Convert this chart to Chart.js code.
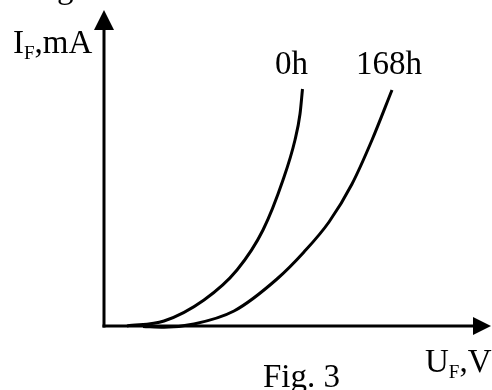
<!DOCTYPE html>
<html>
<head>
<meta charset="utf-8">
<script src="https://cdn.jsdelivr.net/npm/chart.js@4.4.1/dist/chart.umd.min.js"></script>
<style>
  body { margin: 0; background: #fff; }
  canvas { display: block; }
</style>
</head>
<body>
<canvas id="fig-chart" width="492" height="390"></canvas>
<script>

// forward voltage U_F (V) and current I_F (mA)
var u0h   = [0.23, 0.60, 1.00, 1.33, 1.59, 1.79, 1.91, 1.96, 1.985];
var i0h   = [0.0, 0.5, 2.6, 5.6, 9.6, 14.6, 18.6, 21.2, 23.7];
var u168h = [0.39, 0.60, 0.90, 1.30, 1.73, 2.00, 2.25, 2.48, 2.68, 2.88];
var i168h = [-0.05, -0.13, 0.2, 1.5, 4.7, 7.4, 10.4, 14.2, 18.6, 23.6];
var seriesLabels = ["0h", "168h"];

function toPoints(xs, ys) {
    var pts = [];
    for (var i = 0; i < xs.length; i++) {
        pts.push({ x: xs[i], y: ys[i] });
    }
    return pts;
}

var serif = '"Liberation Serif", "Times New Roman", serif';

// text with a subscript part: [main, sub, rest]
function subText(ctx, x, y, main, sub, rest) {
    ctx.font = "33px " + serif;
    ctx.fillText(main, x, y);
    x += ctx.measureText(main).width;
    ctx.font = "19px " + serif;
    ctx.fillText(sub, x, y + 6);
    x += ctx.measureText(sub).width;
    ctx.font = "33px " + serif;
    ctx.fillText(rest, x, y);
}

var axesPlugin = {
    id: "arrowAxes",
    afterDatasetsDraw: function (chart) {
        var ctx = chart.ctx;
        var xs = chart.scales.x, ys = chart.scales.y;
        var x0 = xs.getPixelForValue(0);
        var y0 = ys.getPixelForValue(0);
        var yTop = ys.getPixelForValue(31.6);
        var xEnd = xs.getPixelForValue(3.87);

        ctx.save();
        ctx.strokeStyle = "#000";
        ctx.fillStyle = "#000";
        ctx.lineWidth = 3;
        ctx.lineCap = "butt";

        // y axis
        ctx.beginPath();
        ctx.moveTo(x0, y0 + 1.5);
        ctx.lineTo(x0, yTop + 15);
        ctx.stroke();
        ctx.beginPath();
        ctx.moveTo(x0, yTop);
        ctx.lineTo(x0 - 10, yTop + 20);
        ctx.lineTo(x0 + 10, yTop + 20);
        ctx.closePath();
        ctx.fill();

        // x axis
        ctx.beginPath();
        ctx.moveTo(x0 - 1.5, y0);
        ctx.lineTo(xEnd - 12, y0);
        ctx.stroke();
        ctx.beginPath();
        ctx.moveTo(xEnd, y0);
        ctx.lineTo(xEnd - 18, y0 - 9);
        ctx.lineTo(xEnd - 18, y0 + 9);
        ctx.closePath();
        ctx.fill();

        // labels
        ctx.textBaseline = "alphabetic";
        ctx.textAlign = "left";
        subText(ctx, 13, 53, "I", "F", ",mA");
        subText(ctx, 425, 372, "U", "F", ",V");

        ctx.font = "33px " + serif;
        ctx.fillText("g", 57, -2);
        ctx.fillText("Fig. 3", 263, 387);

        // series names above each curve end
        ctx.fillText(seriesLabels[0], 275, 74);
        ctx.fillText(seriesLabels[1], 356, 74);
        ctx.restore();
    }
};

var lineStyle = {
    borderColor: "#000",
    borderWidth: 3,
    pointRadius: 0,
    fill: false,
    cubicInterpolationMode: "monotone"
};

var figConfig = {
    type: "line",
    data: {
        datasets: [
            Object.assign({ label: seriesLabels[0], data: toPoints(u0h, i0h) }, lineStyle),
            Object.assign({ label: seriesLabels[1], data: toPoints(u168h, i168h) }, lineStyle)
        ]
    },
    options: {
        responsive: false,
        animation: false,
        layout: { padding: { left: 104, right: 0, top: 0, bottom: 44 } },
        scales: {
            x: { type: "linear", min: 0, max: 3.88, display: false },
            y: { type: "linear", min: -2, max: 32.6, display: false }
        },
        plugins: {
            legend: { display: false },
            tooltip: { enabled: false },
            title: { display: false }
        }
    },
    plugins: [axesPlugin]
};

var figContext = document.getElementById("fig-chart").getContext("2d");
window.figChart = new Chart(figContext, figConfig);
</script>
</body>
</html>
